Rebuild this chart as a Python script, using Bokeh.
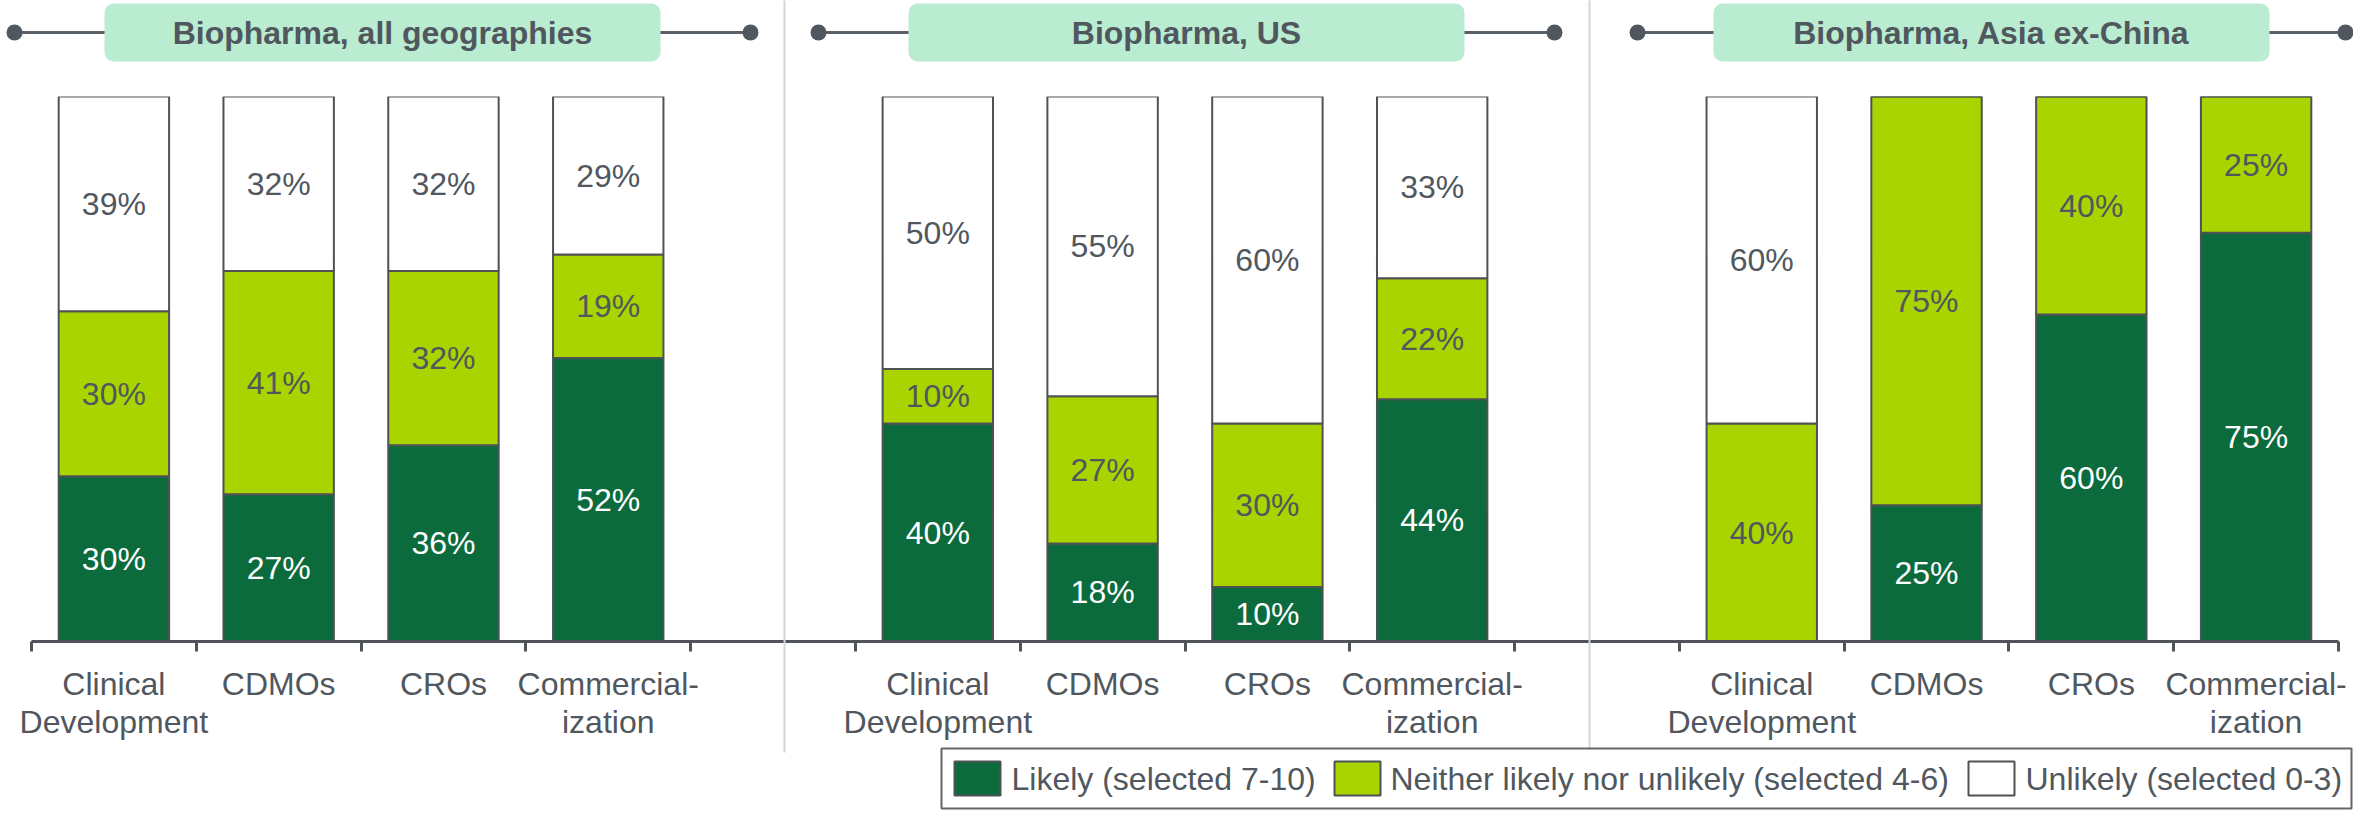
from bokeh.plotting import figure
from bokeh.models import Range1d, LinearAxis, FixedTicker, ColumnDataSource
from bokeh.core.properties import value
from bokeh.embed import file_html
from bokeh.resources import INLINE

# ---------------- data ----------------
panel_titles = ["Biopharma, all geographies", "Biopharma, US", "Biopharma, Asia ex-China"]
categories = ["Clinical\nDevelopment", "CDMOs", "CROs", "Commercial-\nization"]
series_names = ["Likely (selected 7-10)",
                "Neither likely nor unlikely (selected 4-6)",
                "Unlikely (selected 0-3)"]

likely_all = [30, 27, 36, 52]
neither_all = [30, 41, 32, 19]
unlikely_all = [39, 32, 32, 29]

likely_us = [40, 18, 10, 44]
neither_us = [10, 27, 30, 22]
unlikely_us = [50, 55, 60, 33]

likely_asia = [0, 25, 60, 75]
neither_asia = [40, 75, 40, 25]
unlikely_asia = [60, 0, 0, 0]

# ---------------- style ----------------
DARK = "#0b6b3c"
LIGHT = "#a9d400"
WHITE = "#ffffff"
TXT = "#50575e"
OUT = "#4f5254"
TITLE_FILL = "#b9ecd1"
FONT = "Liberation Sans"
SERIES_COLORS = [DARK, LIGHT, WHITE]

W, H = 2353, 810
SLOTS = 14
FL, FR, FT, FB = 31, 2338, 96, 641          # frame edges in page pixels
# layout helpers (page pixel -> data units)
XS = (FR - FL) / SLOTS
YS = (FB - FT) / 100.0
def dx(px): return (px - FL) / XS
def dy(py): return (FB - py) / YS

groups = [
    (likely_all, neither_all, unlikely_all),
    (likely_us, neither_us, unlikely_us),
    (likely_asia, neither_asia, unlikely_asia),
]

xs, b0, t0, b1, t1, b2, t2 = [], [], [], [], [], [], []
lab_x, lab_y, lab_t, lab_c = [], [], [], []
centers, overrides = [], {}
for g, (lk, nt, ul) in enumerate(groups):
    for i in range(len(categories)):
        x = g * 5 + i + 0.5
        xs.append(x)
        centers.append(x)
        overrides[x] = categories[i]
        tot = lk[i] + nt[i] + ul[i]
        a = lk[i] * 100.0 / tot
        b = nt[i] * 100.0 / tot
        c = ul[i] * 100.0 / tot
        b0.append(0); t0.append(a)
        b1.append(a); t1.append(a + b)
        b2.append(a + b); t2.append(a + b + c)
        for v, lo, hi, col in ((lk[i], 0, a, WHITE), (nt[i], a, a + b, TXT),
                               (ul[i], a + b, a + b + c, TXT)):
            if v > 0:
                lab_x.append(x)
                lab_y.append((lo + hi) / 2)
                lab_t.append(f"{v}%")
                lab_c.append(col)

src = ColumnDataSource(dict(x=xs, b0=b0, t0=t0, b1=b1, t1=t1, b2=b2, t2=t2))
lab_src = ColumnDataSource(dict(x=lab_x, y=lab_y, t=lab_t, c=lab_c))

p = figure(width=W, height=H, x_range=Range1d(0, SLOTS), y_range=Range1d(0, 100),
           output_backend="svg", toolbar_location=None,
           x_axis_type=None, y_axis_type=None,
           min_border_left=FL, min_border_right=W - FR, min_border_top=FT,
           min_border_bottom=H - FB)
p.outline_line_color = None
p.background_fill_color = "white"
p.border_fill_color = "white"

# dividers between panels
div = p.segment(x0=[dx(784), dx(1589)], x1=[dx(784), dx(1589)],
                y0=[dy(0), dy(0)], y1=[dy(752), dy(752)],
                line_color="#cfd7da", line_width=2)
div.level = "overlay"

# bars
rs = []
for (bk, tk), col, name in zip((("b0", "t0"), ("b1", "t1"), ("b2", "t2")),
                               SERIES_COLORS, series_names):
    r = p.vbar(x="x", bottom=bk, top=tk, width=0.67, source=src,
               fill_color=col, line_color=OUT, line_width=2, name=name)
    rs.append(r)

p.text(x="x", y="y", text="t", source=lab_src, text_color="c",
       text_font=value(FONT), text_font_size="32px",
       text_align="center", text_baseline="middle")

# axis: boundary ticks as minor ticks, labels at category centres
ax = LinearAxis(ticker=FixedTicker(ticks=centers, minor_ticks=list(range(SLOTS + 1))),
                major_label_overrides=overrides)
ax.axis_line_color = "#505459"
ax.axis_line_width = 3
ax.major_tick_line_color = None
ax.major_tick_out = 10
ax.major_tick_in = 0
ax.minor_tick_line_color = "#505459"
ax.minor_tick_line_width = 3
ax.minor_tick_out = 10
ax.minor_tick_in = 0
ax.major_label_text_font = FONT
ax.major_label_text_font_size = "32px"
ax.major_label_text_color = TXT
ax.major_label_text_line_height = 1.07
ax.major_label_standoff = 14
p.add_layout(ax, "below")

# panel titles with connector lines and end dots
title_cx = [382, 1186, 1991]
half_span = [368, 368, 354]
for cx, hs, t in zip(title_cx, half_span, panel_titles):
    ln = p.segment(x0=[dx(cx - hs), dx(cx + 90)], x1=[dx(cx - 90), dx(cx + hs)],
                   y0=[dy(32), dy(32)], y1=[dy(32), dy(32)],
                   line_color="#5a6067", line_width=3)
    ln.level = "overlay"
    r = 8
    dots = p.quad(left=[dx(cx - hs - r), dx(cx + hs - r)],
                  right=[dx(cx - hs + r), dx(cx + hs + r)],
                  top=[dy(32 - r), dy(32 - r)], bottom=[dy(32 + r), dy(32 + r)],
                  fill_color="#50575e", line_color=None, border_radius=8)
    dots.level = "overlay"
    box = p.quad(left=[dx(cx - 278)], right=[dx(cx + 278)], top=[dy(3)], bottom=[dy(61)],
                 fill_color=TITLE_FILL, line_color=None, border_radius=9)
    box.level = "overlay"
    tt = p.text(x=[dx(cx)], y=[dy(32)], text=[t], text_font=value(FONT),
                text_font_style="bold", text_font_size="32px", text_color=TXT,
                text_align="center", text_baseline="middle")
    tt.level = "overlay"

# legend (drawn below the axis labels)
LG_L, LG_R, LG_T, LG_B = 941, 2351, 748, 808
frame_box = p.quad(left=[dx(LG_L)], right=[dx(LG_R)], top=[dy(LG_T)], bottom=[dy(LG_B)],
                   fill_color="white", line_color="#666666", line_width=2)
frame_box.level = "overlay"
sw_left = [954, 1334, 1968]
txt_left = [1011, 1390, 2025]
sw = p.quad(left=[dx(v) for v in sw_left], right=[dx(v + 46) for v in sw_left],
            top=[dy(761)] * 3, bottom=[dy(795)] * 3,
            fill_color=SERIES_COLORS, line_color=OUT, line_width=2)
sw.level = "overlay"
lt = p.text(x=[dx(v) for v in txt_left], y=[dy(778)] * 3, text=series_names,
            text_font=value(FONT), text_font_size="32px", text_color=TXT,
            text_align="left", text_baseline="middle")
lt.level = "overlay"

open("out.html", "w").write(file_html(p, INLINE))
